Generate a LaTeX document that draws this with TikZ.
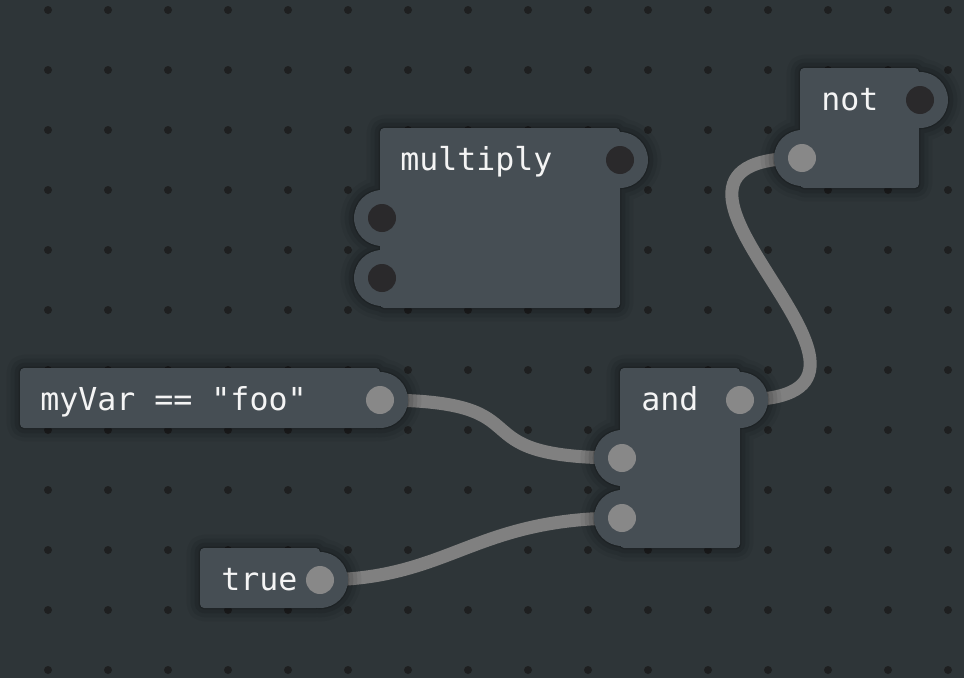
\documentclass[tikz,border=0pt]{standalone}
\usepackage{fontspec}
\setmonofont{DejaVu Sans Mono}
\definecolor{bgc}{HTML}{2E3538}
\definecolor{bodyc}{HTML}{464E54}
\definecolor{dotc}{HTML}{1E1F20}
\definecolor{wirec}{HTML}{808080}
\definecolor{plight}{HTML}{888888}
\definecolor{pdark}{HTML}{2A292B}
\definecolor{txtc}{HTML}{F4F4F4}
\pgfdeclarelayer{back}
\pgfdeclarelayer{wirelayer}
\pgfdeclarelayer{shade}
\pgfsetlayers{back,wirelayer,shade,main}
\tikzset{
  nbody/.style={fill=bodyc, rounded corners=3pt, inner sep=0pt, outer sep=0pt, anchor=north west, draw=none, rectangle},
  bump/.style={circle, fill=bodyc, minimum size=42pt, inner sep=0pt, outer sep=0pt},
  pdot/.style={circle, minimum size=21pt, inner sep=0pt, outer sep=0pt},
  pon/.style={pdot, fill=plight},
  poff/.style={pdot, fill=pdark},
  lbl/.style={anchor=base west, inner sep=0pt, text=txtc, font=\ttfamily\fontsize{23.7}{28}\selectfont},
  wire/.style={draw=wirec, line width=9.75pt},
}
\newcommand\nshadow[2]{%
  \foreach \w/\o in {20/0.05,14/0.07,8/0.09,2/0.14}{
    \path[fill=black, draw=black, opacity=\o, line width=\w pt, line join=round, yshift=-3pt]
      [rounded corners=3pt] (#1.north west) rectangle (#1.south east)
      [sharp corners] foreach \p in {#2} { (\p.center) circle[radius=21pt] };
  }%
}
\begin{document}
\begin{tikzpicture}[x=0.75pt,y=-0.75pt]
\begin{pgfonlayer}{back}
  \fill[bgc] (0,0) rectangle (964,678);
  \useasboundingbox (0,0) rectangle (964,678);
  \foreach \i in {0,...,15}{
    \foreach \j in {0,...,11}{
      \fill[dotc] (48+60*\i,10+60*\j) circle[radius=3pt];
    }
  }
\end{pgfonlayer}

% multiply
\node[nbody, minimum width=180pt, minimum height=135pt] (mul) at (380,128) {};
\node[bump] (mul-out) at (620,160) {};
\node[bump] (mul-in1) at (382,218) {};
\node[bump] (mul-in2) at (382,278) {};
\node[poff] (mul-outd) at (mul-out) {};
\node[poff] (mul-in1d) at (mul-in1) {};
\node[poff] (mul-in2d) at (mul-in2) {};
\node[lbl] (mul-t) at (400,170) {multiply};

% not
\node[nbody, minimum width=89.25pt, minimum height=90pt] (not) at (800,68) {};
\node[bump] (not-out) at (920,100) {};
\node[bump] (not-in) at (802,158) {};
\node[poff] (not-outd) at (not-out) {};
\node[pon] (not-ind) at (not-in) {};
\node[lbl] (not-t) at (821,110) {not};

% and
\node[nbody, minimum width=90pt, minimum height=135pt] (and) at (620,368) {};
\node[bump] (and-out) at (740,400) {};
\node[bump] (and-in1) at (622,458) {};
\node[bump] (and-in2) at (622,518) {};
\node[pon] (and-outd) at (and-out) {};
\node[pon] (and-in1d) at (and-in1) {};
\node[pon] (and-in2d) at (and-in2) {};
\node[lbl] (and-t) at (641,410) {and};

% myVar == "foo"
\node[nbody, minimum width=270pt, minimum height=45pt] (mv) at (20,368) {};
\node[bump] (mv-out) at (380,400) {};
\node[pon] (mv-outd) at (mv-out) {};
\node[lbl] (mv-t) at (40,410) {myVar == "foo"};

% true
\node[nbody, minimum width=90pt, minimum height=45pt] (tr) at (200,548) {};
\node[bump] (tr-out) at (320,580) {};
\node[pon] (tr-outd) at (tr-out) {};
\node[lbl] (tr-t) at (221,590) {true};

\begin{pgfonlayer}{wirelayer}
  \draw[wire] (mv-out.center) .. controls +(175,0) and +(-175,0) .. (and-in1.center);
  \draw[wire] (tr-out.center) .. controls +(130,0) and +(-150,0) .. (and-in2.center);
  \draw[wire] (and-out.center) .. controls +(215,0) and +(-215,0) .. (not-in.center);
\end{pgfonlayer}

\begin{pgfonlayer}{shade}
  \nshadow{mul}{mul-out,mul-in1,mul-in2}
  \nshadow{not}{not-out,not-in}
  \nshadow{and}{and-out,and-in1,and-in2}
  \nshadow{mv}{mv-out}
  \nshadow{tr}{tr-out}
\end{pgfonlayer}
\end{tikzpicture}
\end{document}
